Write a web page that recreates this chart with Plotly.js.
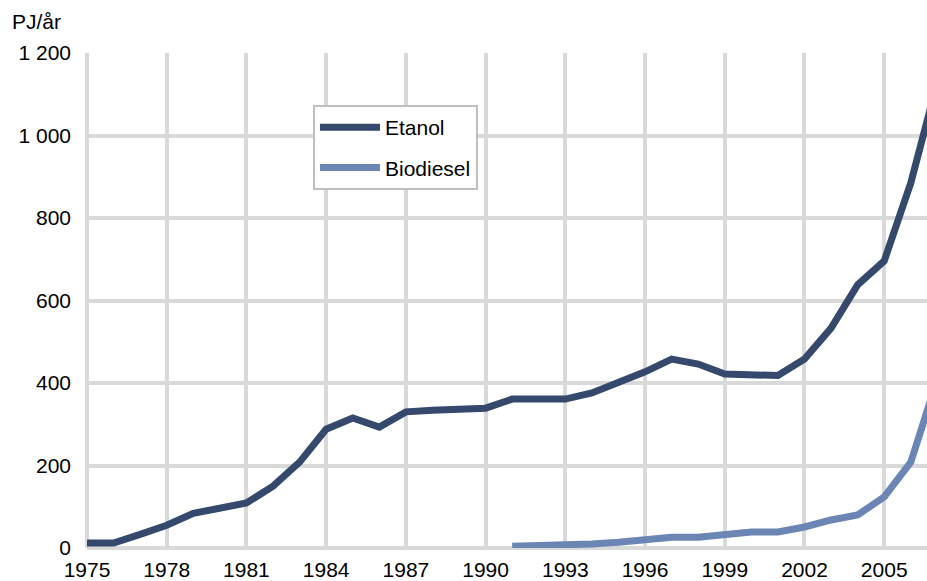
<!DOCTYPE html>
<html>
<head>
<meta charset="utf-8">
<script src="https://cdn.plot.ly/plotly-3.0.1.min.js"></script>
<style>html,body{margin:0;padding:0;background:#fff;}#chart{width:927px;height:581px;}</style>
</head>
<body>
<div id="chart"></div>
<script>
const years = [1975,1976,1977,1978,1979,1980,1981,1982,1983,1984,1985,1986,1987,1988,1989,1990,1991,1992,1993,1994,1995,1996,1997,1998,1999,2000,2001,2002,2003,2004,2005,2006,2007];
const etanol = [12,12,33,55,84,97,109,150,208,288,315,293,330,334,337,339,361,361,361,376,400,427,458,446,422,418,418,458,533,638,696,885,1130];
const biodieselYears = [1991,1992,1993,1994,1995,1996,1997,1998,1999,2000,2001,2002,2003,2004,2005,2006,2007];
const biodiesel = [4,5,7,10,14,19,26,26,33,39,39,51,68,80,124,208,410];
const xTicks = [1975,1978,1981,1984,1987,1990,1993,1996,1999,2002,2005];
const yTicks = [0,200,400,600,800,1000,1200];
const yTickText = ["0","200","400","600","800","1 000","1 200"];

const font = "Liberation Sans, Arial, sans-serif";
const fs = 21;
const traces = [
  {x: years, y: etanol, name: "Etanol", type: "scatter", mode: "lines",
   line: {color: "#34496b", width: 7}, legendgroup: "a"},
  {x: biodieselYears, y: biodiesel, name: "Biodiesel", type: "scatter", mode: "lines",
   line: {color: "#6b86b4", width: 7}, legendgroup: "b"}
];
const layout = {
  width: 927, height: 581,
  margin: {l: 87, r: 0, t: 53, b: 33},
  paper_bgcolor: "#fff", plot_bgcolor: "#fff",
  font: {family: font, size: fs, color: "#000"},
  showlegend: true,
  legend: {x: 0.269, y: 0.895, xanchor: "left", yanchor: "top",
    bgcolor: "#fff", bordercolor: "#bfbfbf", borderwidth: 2,
    font: {family: font, size: fs, color: "#000"},
    traceorder: "grouped", tracegroupgap: 10, itemwidth: 60},
  xaxis: {range: [1975, 2006.61], tickvals: xTicks, ticktext: xTicks.map(String),
    showgrid: true, gridcolor: "#d9d9d9", gridwidth: 4, zeroline: false,
    showline: false, ticks: "", ticklabelstandoff: 7,
    tickfont: {family: font, size: fs, color: "#000"}},
  yaxis: {range: [0, 1200], tickvals: yTicks, ticktext: yTickText,
    showgrid: true, gridcolor: "#d9d9d9", gridwidth: 4, zeroline: false,
    showline: false, ticks: "", ticklabelstandoff: 15,
    tickfont: {family: font, size: fs, color: "#000"}},
  shapes: [
    {type: "line", xref: "paper", yref: "paper", x0: 0, x1: 0, y0: 0, y1: 1,
     line: {color: "#d9d9d9", width: 4}, layer: "below"},
    {type: "line", xref: "paper", yref: "paper", x0: 0, x1: 1, y0: 0, y1: 0,
     line: {color: "#d9d9d9", width: 4}, layer: "below"}
  ],
  annotations: [
    {text: "PJ/år", xref: "paper", yref: "paper", x: -0.092, y: 1.063,
     xanchor: "left", yanchor: "middle", showarrow: false,
     font: {family: font, size: fs, color: "#000"}}
  ]
};
Plotly.newPlot("chart", traces, layout, {displayModeBar: false, staticPlot: true});
</script>
</body>
</html>
